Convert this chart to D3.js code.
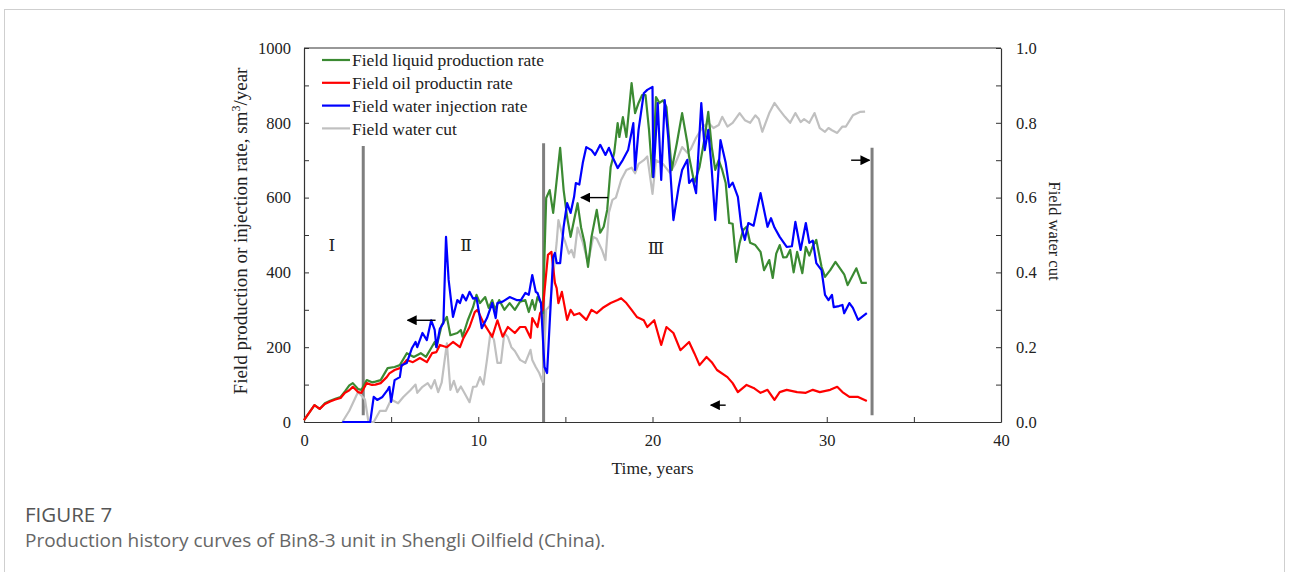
<!DOCTYPE html>
<html>
<head>
<meta charset="utf-8">
<script src="https://cdn.jsdelivr.net/npm/d3@7"></script>
<style>
  html, body { margin: 0; padding: 0; background: #fff; }
  svg { display: block; }
</style>
</head>
<body>
<svg id="chart" width="1290" height="572"></svg>
<script>
// ---- Data: [time in years, value] ----
const liquidRate = [[0,5],[0.3,25],[0.6,45],[0.9,35],[1.2,50],[1.5,57],[1.8,62],[2.1,67],[2.35,82],[2.6,98],[2.8,104],[3.1,88],[3.3,86],[3.6,112],[3.9,106],[4.1,108],[4.4,112],[4.8,144],[5.2,147],[5.5,152],[5.9,184],[6.3,174],[6.7,184],[7.0,174],[7.3,198],[7.5,214],[7.6,200],[7.9,259],[8.2,281],[8.4,232],[8.8,238],[9.0,246],[9.1,228],[9.4,272],[9.7,307],[9.9,340],[10.1,318],[10.4,334],[10.6,305],[10.8,326],[10.96,300],[11.2,326],[11.5,300],[11.8,318],[12.1,300],[12.4,322],[12.7,326],[12.9,294],[13.1,326],[13.25,300],[13.4,334],[13.6,318],[13.7,291],[13.9,599],[14.1,620],[14.3,559],[14.4,602],[14.7,733],[14.9,620],[15.1,548],[15.3,495],[15.5,540],[15.7,585],[15.9,520],[16.1,479],[16.3,415],[16.5,495],[16.8,567],[17.0,506],[17.2,522],[17.4,567],[17.6,682],[17.8,719],[18.0,799],[18.1,762],[18.3,815],[18.5,762],[18.8,906],[19.0,826],[19.2,853],[19.4,874],[19.6,874],[19.8,781],[20.0,655],[20.2,869],[20.4,853],[20.6,860],[20.8,842],[21.1,674],[21.4,746],[21.7,826],[22.0,746],[22.1,709],[22.4,639],[22.7,682],[23.0,762],[23.2,829],[23.4,735],[23.6,674],[23.8,700],[24.0,674],[24.2,639],[24.4,532],[24.6,530],[24.8,428],[25.0,479],[25.2,513],[25.4,522],[25.6,479],[25.9,473],[26.2,455],[26.4,406],[26.7,433],[26.9,385],[27.1,450],[27.3,473],[27.5,440],[27.7,441],[27.9,460],[28.1,400],[28.3,455],[28.6,398],[28.8,468],[29.0,445],[29.2,470],[29.4,487],[29.7,415],[29.9,388],[30.2,406],[30.5,428],[30.7,415],[31.0,395],[31.2,366],[31.7,411],[32.0,372],[32.3,372]];

const oilRate = [[0,5],[0.3,25],[0.6,45],[0.9,35],[1.2,48],[1.5,55],[1.8,60],[2.1,64],[2.35,78],[2.6,85],[2.8,94],[3.1,80],[3.3,78],[3.6,104],[3.9,99],[4.1,100],[4.4,104],[4.75,120],[4.9,130],[5.2,139],[5.5,144],[5.9,166],[6.25,160],[6.65,171],[7.05,160],[7.35,184],[7.6,187],[7.8,206],[8.2,200],[8.55,214],[8.95,200],[9.15,224],[9.5,254],[9.8,294],[9.95,300],[10.3,265],[10.8,228],[11.1,272],[11.4,228],[11.7,254],[12.1,238],[12.4,254],[12.7,254],[13.0,225],[13.1,278],[13.4,254],[13.55,291],[13.7,300],[14.0,447],[14.2,455],[14.4,372],[14.5,358],[14.6,318],[14.8,348],[15.1,273],[15.3,300],[15.5,286],[15.8,291],[16.2,273],[16.5,300],[16.8,291],[17.2,307],[17.6,318],[18.0,326],[18.2,331],[18.5,318],[18.8,300],[19.1,281],[19.5,272],[19.7,254],[20.1,272],[20.5,206],[20.8,254],[21.2,238],[21.6,192],[22.1,214],[22.4,184],[22.7,152],[23.1,174],[23.4,160],[23.7,139],[24.3,120],[24.6,104],[24.9,80],[25.4,99],[25.8,91],[26.2,78],[26.6,86],[27.0,59],[27.3,80],[27.7,86],[28.3,80],[28.8,78],[29.2,86],[29.6,80],[30.2,86],[30.6,94],[30.9,80],[31.3,67],[31.8,67],[32.3,56]];

const injectionRate = [[2.2,0],[3.8,0],[4.0,67],[4.2,59],[4.5,67],[4.8,86],[4.9,94],[5.0,54],[5.2,112],[5.5,120],[5.6,152],[5.9,158],[6.2,198],[6.4,214],[6.5,200],[6.8,238],[7.05,219],[7.3,272],[7.5,246],[7.6,200],[7.8,250],[8.0,264],[8.15,495],[8.3,380],[8.55,281],[8.8,326],[8.95,318],[9.1,340],[9.3,325],[9.5,348],[9.7,330],[9.9,332],[10.2,251],[10.5,278],[10.8,318],[11.0,278],[11.1,318],[11.4,322],[11.8,334],[12.2,326],[12.45,326],[12.7,345],[12.9,340],[13.1,393],[13.3,348],[13.4,345],[13.6,318],[13.8,147],[13.95,131],[14.1,265],[14.3,441],[14.4,452],[14.5,425],[14.7,425],[14.9,522],[15.1,585],[15.3,559],[15.5,602],[15.6,639],[15.8,635],[16.0,693],[16.2,735],[16.5,727],[16.7,714],[17.0,741],[17.3,714],[17.5,733],[17.7,709],[18.0,679],[18.3,701],[18.6,727],[18.9,799],[19.0,674],[19.2,781],[19.5,879],[19.7,888],[20.0,896],[20.05,655],[20.3,853],[20.5,647],[20.7,861],[20.9,762],[21.2,540],[21.5,628],[21.7,674],[22.0,701],[22.1,639],[22.3,650],[22.5,612],[22.8,853],[23.0,727],[23.2,781],[23.4,674],[23.6,540],[23.9,754],[24.2,693],[24.4,628],[24.6,640],[24.9,602],[25.1,522],[25.3,487],[25.5,532],[25.8,525],[26.2,612],[26.6,522],[26.8,545],[27.0,520],[27.3,495],[27.7,468],[28.0,470],[28.2,535],[28.5,460],[28.8,532],[29.0,479],[29.2,485],[29.4,425],[29.7,406],[29.9,340],[30.1,326],[30.3,340],[30.4,307],[30.7,310],[30.9,313],[31.0,291],[31.3,318],[31.5,305],[31.8,273],[32.3,291]];

const waterCut = [[2.2,0],[2.6,0.03],[3.1,0.08],[3.5,0.06],[3.7,0.0],[4.0,0.0],[4.36,0.03],[4.7,0.03],[5.0,0.06],[5.4,0.05],[5.7,0.067],[6.1,0.085],[6.4,0.10],[6.5,0.078],[6.8,0.094],[7.1,0.104],[7.3,0.09],[7.5,0.112],[7.7,0.08],[7.9,0.105],[8.2,0.21],[8.4,0.086],[8.6,0.11],[8.8,0.08],[9.0,0.095],[9.2,0.078],[9.5,0.053],[9.7,0.094],[9.9,0.095],[10.1,0.12],[10.3,0.10],[10.5,0.166],[10.7,0.238],[10.9,0.22],[11.1,0.158],[11.3,0.158],[11.5,0.238],[11.7,0.227],[11.9,0.2],[12.1,0.19],[12.4,0.166],[12.7,0.158],[13.0,0.193],[13.1,0.166],[13.3,0.147],[13.5,0.131],[13.7,0.107],[13.9,0.30],[14.1,0.31],[14.3,0.39],[14.5,0.48],[14.6,0.54],[14.8,0.505],[15.0,0.48],[15.2,0.45],[15.35,0.46],[15.5,0.44],[15.7,0.52],[16.0,0.48],[16.3,0.425],[16.6,0.495],[16.8,0.49],[17.1,0.46],[17.3,0.433],[17.5,0.56],[17.7,0.594],[17.9,0.6],[18.2,0.647],[18.5,0.674],[18.8,0.68],[19.0,0.665],[19.2,0.69],[19.5,0.70],[19.7,0.71],[20.0,0.61],[20.2,0.70],[20.6,0.69],[21.0,0.666],[21.3,0.69],[21.7,0.735],[22.0,0.72],[22.2,0.73],[22.5,0.76],[22.9,0.79],[23.2,0.80],[23.5,0.786],[23.8,0.794],[24.0,0.816],[24.3,0.79],[24.6,0.80],[25.0,0.826],[25.3,0.807],[25.6,0.80],[25.9,0.82],[26.1,0.81],[26.3,0.776],[26.7,0.826],[27.0,0.853],[27.3,0.834],[27.6,0.816],[27.9,0.80],[28.2,0.826],[28.5,0.802],[28.7,0.81],[29.0,0.80],[29.3,0.826],[29.6,0.786],[29.9,0.776],[30.1,0.786],[30.3,0.78],[30.6,0.773],[30.9,0.79],[31.1,0.79],[31.5,0.82],[31.9,0.829],[32.2,0.83]];

// Stage boundaries (time, top of marker line in rate units, bottom)
const stageLines = [[3.4, 738, 18], [13.75, 745, 0], [32.6, 733, 18]];
const stageLabels = [["Ⅰ", 1.6, 470], ["Ⅱ", 9.3, 468], ["Ⅲ", 20.2, 462]];
// Arrows pointing to the axis each curve group reads from: [fromT, toT, level]
const arrows = [[7.55, 5.95, 272], [17.45, 15.9, 600], [24.2, 23.35, 45], [31.4, 32.45, 700]];

const legendLabels = ["Field liquid production rate", "Field oil productin rate", "Field water injection rate", "Field water cut"];
const colors = ["#3b8a32", "#ff0000", "#0000ff", "#c0c0c0"];

const leftTicks = d3.range(0, 1001, 100);
const rightTicks = d3.range(0, 11).map(d => d / 10);
const timeTicks = d3.range(0, 41, 5);

// ---- Scales ----
const svg = d3.select("#chart");
const serif = "'Liberation Serif', 'Times New Roman', serif";
const x = d3.scaleLinear().domain([0, 40]).range([304, 1001]);
const yL = d3.scaleLinear().domain([0, 1000]).range([422, 48]);
const yR = d3.scaleLinear().domain([0, 1]).range([422, 48]);

// Card frame
svg.append("rect").attr("x", 4.5).attr("y", 9.5).attr("width", 1280).attr("height", 620)
  .attr("fill", "none").attr("stroke", "#cfcfcf").attr("stroke-width", 1);

// ---- Axes ----
const axisColor = "#333";
function styleAxis(g, size) {
  g.select(".domain").attr("stroke", axisColor).attr("stroke-width", 1.2);
  g.selectAll(".tick line").attr("stroke", axisColor).attr("stroke-width", 1);
  g.selectAll(".tick text").attr("font-family", serif).attr("font-size", size).attr("fill", "#222");
}

svg.append("g").attr("transform", `translate(${x(0)},0)`)
  .call(d3.axisLeft(yL).tickValues(leftTicks).tickSizeInner(-5).tickSizeOuter(0).tickPadding(13)
    .tickFormat(d => d % 200 === 0 ? d : ""))
  .call(g => styleAxis(g, 16.5));

svg.append("g").attr("transform", `translate(${x(40)},0)`)
  .call(d3.axisRight(yR).tickValues(rightTicks).tickSizeInner(-5).tickSizeOuter(0).tickPadding(15)
    .tickFormat(d => Math.round(d * 10) % 2 === 0 ? d3.format(".1f")(d) : ""))
  .call(g => styleAxis(g, 16.5));

svg.append("g").attr("transform", `translate(0,${yL(0)})`)
  .call(d3.axisBottom(x).tickValues(timeTicks).tickSizeInner(-5).tickSizeOuter(0).tickPadding(12)
    .tickFormat(d => d % 10 === 0 ? d : ""))
  .call(g => styleAxis(g, 16.5));

// top frame line
svg.append("line").attr("x1", x(0)).attr("x2", x(40)).attr("y1", yL(1000)).attr("y2", yL(1000))
  .attr("stroke", axisColor).attr("stroke-width", 1.2);

// Axis titles
svg.append("text").attr("x", x(20)).attr("y", 474).attr("text-anchor", "middle")
  .attr("font-family", serif).attr("font-size", 17.5).attr("fill", "#222").text("Time, years");

const yTitle = svg.append("text")
  .attr("transform", `translate(247,231) rotate(-90)`).attr("text-anchor", "middle")
  .attr("font-family", serif).attr("font-size", 19).attr("fill", "#222");
yTitle.append("tspan").text("Field production or injection rate, sm");
yTitle.append("tspan").attr("font-size", 12).attr("dy", -7).text("3");
yTitle.append("tspan").attr("dy", 7).text("/year");

svg.append("text")
  .attr("transform", `translate(1049,231) rotate(90)`).attr("text-anchor", "middle")
  .attr("font-family", serif).attr("font-size", 16.5).attr("fill", "#222").text("Field water cut");

// ---- Stage boundary lines and labels ----
svg.append("g").selectAll("line").data(stageLines).join("line")
  .attr("x1", d => x(d[0])).attr("x2", d => x(d[0]))
  .attr("y1", d => yL(d[1])).attr("y2", d => yL(d[2]))
  .attr("stroke", "#7f7f7f").attr("stroke-width", 3);

svg.append("g").selectAll("text").data(stageLabels).join("text")
  .attr("x", d => x(d[1])).attr("y", d => yL(d[2])).attr("text-anchor", "middle")
  .attr("dominant-baseline", "middle")
  .attr("font-family", "'DejaVu Serif', serif").attr("font-size", 17).attr("fill", "#222")
  .text(d => d[0]);

// ---- Curves ----
const lineL = d3.line().x(d => x(d[0])).y(d => yL(d[1]));
const lineR = d3.line().x(d => x(d[0])).y(d => yR(d[1]));
const curves = svg.append("g").attr("fill", "none").attr("stroke-width", 2.2).attr("stroke-linejoin", "round");
curves.append("path").datum(waterCut).attr("d", lineR).attr("stroke", colors[3]);
curves.append("path").datum(liquidRate).attr("d", lineL).attr("stroke", colors[0]);
curves.append("path").datum(oilRate).attr("d", lineL).attr("stroke", colors[1]);
curves.append("path").datum(injectionRate).attr("d", lineL).attr("stroke", colors[2]);

// ---- Arrows ----
svg.append("defs").append("marker").attr("id", "head")
  .attr("viewBox", "0 0 10 10").attr("refX", 9).attr("refY", 5)
  .attr("markerWidth", 10).attr("markerHeight", 10).attr("markerUnits", "userSpaceOnUse")
  .attr("orient", "auto")
  .append("path").attr("d", "M0,0 L10,5 L0,10 Z").attr("fill", "#000");

svg.append("g").selectAll("line").data(arrows).join("line")
  .attr("x1", d => x(d[0])).attr("x2", d => x(d[1]))
  .attr("y1", d => yL(d[2])).attr("y2", d => yL(d[2]))
  .attr("stroke", "#000").attr("stroke-width", 1.4).attr("marker-end", "url(#head)");

// ---- Legend ----
const legend = svg.append("g").attr("transform", "translate(322,60)");
const rows = legend.selectAll("g").data(legendLabels).join("g")
  .attr("transform", (d, i) => `translate(0,${i * 22.8})`);
rows.append("line").attr("x1", 0).attr("x2", 28).attr("y1", 0).attr("y2", 0)
  .attr("stroke", (d, i) => colors[i]).attr("stroke-width", 2.2);
rows.append("text").attr("x", 30).attr("y", 0).attr("dy", "0.35em")
  .attr("font-family", serif).attr("font-size", 17.5).attr("fill", "#222").text(d => d);

// ---- Caption ----
svg.append("text").attr("x", 25).attr("y", 522)
  .attr("font-family", "'Open Sans', 'Noto Sans', sans-serif").attr("font-size", 20.5)
  .attr("font-weight", 500).attr("fill", "#555").text("FIGURE 7");
svg.append("text").attr("x", 25).attr("y", 547)
  .attr("font-family", "'Open Sans', 'Noto Sans', sans-serif").attr("font-size", 19)
  .attr("fill", "#666").text("Production history curves of Bin8-3 unit in Shengli Oilfield (China).");
</script>
</body>
</html>
